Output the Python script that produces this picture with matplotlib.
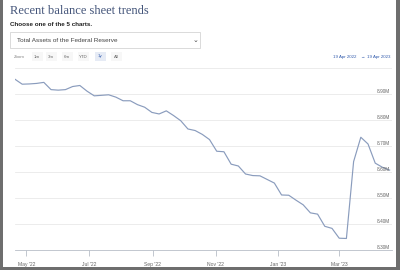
import pandas as pd
import matplotlib.pyplot as plt
import matplotlib.dates as mdates
from matplotlib.patches import Rectangle

# Weekly total assets (millions of USD, shown in "M" of millions)
dates = pd.date_range(start='2022-04-20', end='2023-04-19', freq='7D')
total_assets = [
    8.958, 8.939, 8.940, 8.942, 8.946, 8.918, 8.916, 8.918, 8.930, 8.934,
    8.912, 8.894, 8.896, 8.898, 8.889, 8.875, 8.875, 8.860, 8.850, 8.830,
    8.824, 8.836, 8.818, 8.798, 8.766, 8.760, 8.745, 8.725, 8.680, 8.678,
    8.630, 8.623, 8.592, 8.586, 8.585, 8.571, 8.557, 8.511, 8.510, 8.491,
    8.473, 8.442, 8.437, 8.390, 8.382, 8.344, 8.343, 8.640, 8.734, 8.708,
    8.634, 8.618, 8.607,
]
y_ticks = [8.30, 8.40, 8.50, 8.60, 8.70, 8.80, 8.90]
x_ticks = ['2022-05-01', '2022-07-01', '2022-09-01', '2022-11-01', '2023-01-01', '2023-03-01']
zoom_buttons = ['1m', '3m', '6m', 'YTD', '1y', 'All']
selected_button = '1y'

W, H = 400, 270
fig = plt.figure(figsize=(W / 100, H / 100), dpi=100)
fig.patch.set_facecolor('white')


def fx(px):
    return px / W


def fy(py):
    return 1 - py / H


sans = ['Liberation Sans', 'DejaVu Sans']

# Header
fig.text(fx(10), fy(11), 'Recent balance sheet trends', family=['Liberation Serif', 'DejaVu Serif'],
         fontsize=9, color='#44557a', va='center', ha='left')
fig.text(fx(10), fy(24), 'Choose one of the 5 charts.', family=sans, fontsize=4.5,
         fontweight='bold', color='#222222', va='center', ha='left')

# Dropdown box
fig.patches.append(Rectangle((fx(10), fy(48)), fx(190), 16 / H, transform=fig.transFigure,
                             facecolor='white', edgecolor='#d4d4d4', linewidth=0.6))
fig.text(fx(17), fy(40), 'Total Assets of the Federal Reserve', family=sans, fontsize=4.6,
         color='#444444', va='center', ha='left')
fig.text(fx(196), fy(40), '\u2304', family=['DejaVu Sans'], fontsize=5, color='#444444',
         va='center', ha='center')

# Zoom buttons
fig.text(fx(14), fy(56.5), 'Zoom', family=sans, fontsize=3.2, color='#888888', va='center', ha='left')
btn_x = [37, 51, 67, 83, 100, 116]
for cx, lab in zip(btn_x, zoom_buttons):
    sel = lab == selected_button
    fig.patches.append(Rectangle((fx(cx - 5.5), fy(61)), 11 / W, 9 / H, transform=fig.transFigure,
                                 facecolor='#e6ebf5' if sel else '#f7f7f7', edgecolor='none'))
    fig.text(fx(cx), fy(56.5), lab, family=sans, fontsize=3.2,
             color='#335cad' if sel else '#666666', va='center', ha='center')

# Range display
fig.text(fx(345), fy(57), '19 Apr 2022', family=sans, fontsize=3.2, color='#335cad', va='center', ha='center')
fig.text(fx(362), fy(57), '\u2192', family=sans, fontsize=3.2, color='#335cad', va='center', ha='center')
fig.text(fx(379), fy(57), '19 Apr 2023', family=sans, fontsize=3.2, color='#335cad', va='center', ha='center')

# Chart area
ax = fig.add_axes([fx(15), fy(249.6), fx(392 - 15), (249.6 - 68.4) / H])
ax.plot(dates, total_assets, color='#8a9cbd', linewidth=0.85, zorder=3)
ax.set_ylim(8.30, 9.00)
ax.set_xlim(dates[0], dates[-1] + pd.Timedelta(days=2.3))

for v in y_ticks[1:] + [9.00]:
    ax.axhline(v, color='#e9e9e9', linewidth=0.6, zorder=1)
for v in y_ticks:
    ax.text(0.995, v, f'{v:.2f}M', transform=ax.get_yaxis_transform(), family=sans,
            fontsize=3.4, color='#666666', ha='right', va='bottom', zorder=4)

ax.set_yticks([])
ax.set_xticks(pd.to_datetime(x_ticks))
ax.xaxis.set_major_formatter(mdates.DateFormatter("%b '%y"))
ax.tick_params(axis='x', length=4, width=0.6, color='#b8bec8', labelsize=3.6,
               labelcolor='#666666', pad=5)
for t in ax.get_xticklabels():
    t.set_family(sans)
for s in ['top', 'left', 'right']:
    ax.spines[s].set_visible(False)
ax.spines['bottom'].set_color('#b8bec8')
ax.spines['bottom'].set_linewidth(0.6)
ax.set_facecolor('white')

# Screenshot frame
fig.patches.append(Rectangle((0, 0), fx(3), 1, transform=fig.transFigure, facecolor='#6e6e6e', edgecolor='none'))
fig.patches.append(Rectangle((fx(395.5), 0), fx(4.5), 1, transform=fig.transFigure, facecolor='#6e6e6e', edgecolor='none'))
fig.patches.append(Rectangle((0, 0), 1, 3.5 / H, transform=fig.transFigure, facecolor='#6e6e6e', edgecolor='none'))

fig.savefig('out.png', dpi=100)
plt.close(fig)
